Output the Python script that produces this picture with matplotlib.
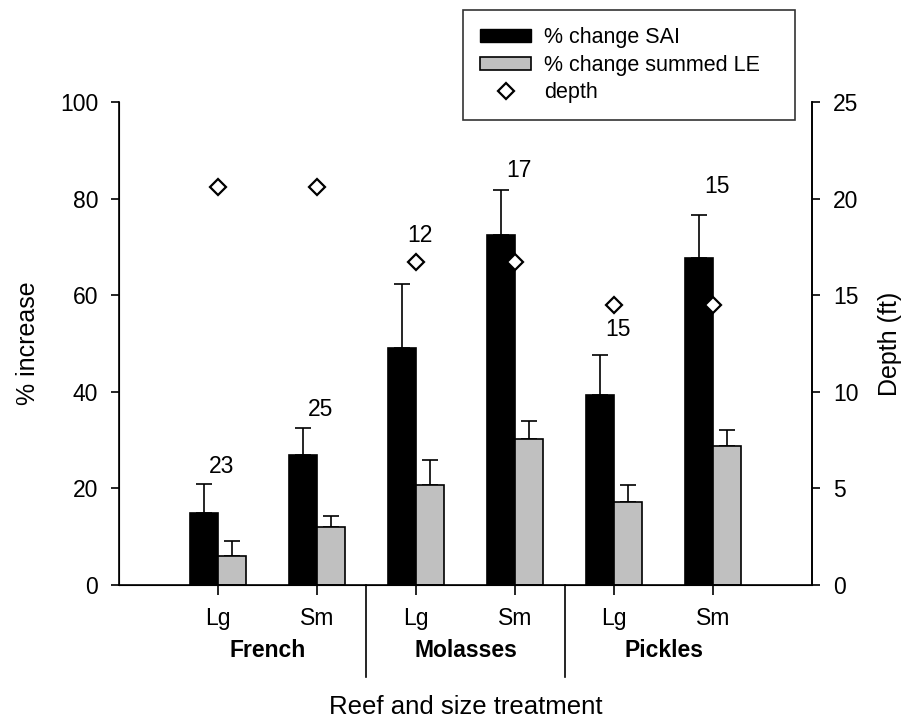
import matplotlib

matplotlib.use("Agg")
import matplotlib.pyplot as plt
from matplotlib.patches import Patch
from matplotlib.lines import Line2D
import numpy as np

plt.rcParams["font.family"] = ["Liberation Sans", "DejaVu Sans"]

# data
reefs = ["French", "Molasses", "Pickles"]
sizes = ["Lg", "Sm", "Lg", "Sm", "Lg", "Sm"]
sai = [15.0, 26.9, 49.0, 72.4, 39.3, 67.8]
sai_se = [5.9, 5.6, 13.3, 9.3, 8.4, 8.9]
le = [6.1, 11.9, 20.6, 30.2, 17.1, 28.8]
le_se = [3.0, 2.4, 5.3, 3.8, 3.7, 3.3]
depth = [20.6, 20.6, 16.7, 16.7, 14.5, 14.5]
n_obs = ["23", "25", "12", "17", "15", "15"]
n_label_y = [24.6, 36.4, 72.3, 85.9, 52.8, 82.6]

fs = 16.5      # ticks and annotations
fs_lab = 18    # axis titles
fs_leg = 15.5
x = np.arange(len(sizes))
w = 0.28

fig = plt.figure(figsize=(9.09, 7.22), dpi=100)
ax = fig.add_axes([0.1309, 0.1898, 0.7624, 0.6689])

ax.bar(x - w / 2, sai, w, color="black", edgecolor="black", lw=1.2, zorder=2)
ax.bar(x + w / 2, le, w, color="#c0c0c0", edgecolor="black", lw=1.2, zorder=2)
ax.errorbar(x - w / 2, sai, yerr=[np.zeros(6), sai_se], fmt="none",
            ecolor="black", elinewidth=1.2, capsize=5.5, capthick=1.2, zorder=1)
ax.errorbar(x + w / 2, le, yerr=[np.zeros(6), le_se], fmt="none",
            ecolor="black", elinewidth=1.2, capsize=5.5, capthick=1.2, zorder=1)

for xi, lab, yi in zip(x, n_obs, n_label_y):
    ax.text(xi + 0.04, yi, lab, ha="center", va="center", fontsize=fs)

ax.set_xlim(-1, 6)
ax.set_ylim(0, 100)
ax.set_yticks(np.arange(0, 101, 20))
ax.set_xticks(x)
ax.set_xticklabels(sizes)
ax.tick_params(axis="both", labelsize=fs, direction="out", width=1.2)
ax.tick_params(axis="y", length=6, pad=9)
ax.tick_params(axis="x", length=7, pad=9)
ax.spines["top"].set_visible(False)
for s in ["left", "bottom", "right"]:
    ax.spines[s].set_linewidth(1.2)
ax.set_ylabel("% increase", fontsize=fs_lab, labelpad=14)

# separators and reef names under the axis
trans = ax.get_xaxis_transform()
for sx in [1.5, 3.5]:
    ax.plot([sx, sx], [0, -0.19], color="black", lw=1.2, transform=trans,
            clip_on=False)
for i, reef in enumerate(reefs):
    ax.text(2 * i + 0.5, -0.135, reef, transform=trans, ha="center",
            va="center", fontsize=fs, fontweight="bold")
ax.text(2.5, -0.252, "Reef and size treatment", transform=trans,
        ha="center", va="center", fontsize=fs_lab + 0.5)

ax2 = ax.twinx()
ax2.plot(x, depth, ls="none", marker="D", ms=8, mfc="white", mec="black",
         mew=1.6, zorder=3)
ax2.set_ylim(0, 25)
ax2.set_yticks(np.arange(0, 26, 5))
ax2.tick_params(axis="y", labelsize=fs, direction="out", length=6, width=1.2,
                pad=9)
ax2.spines["top"].set_visible(False)
ax2.spines["right"].set_linewidth(1.2)
ax2.set_ylabel("Depth (ft)", fontsize=fs_lab, labelpad=14)

handles = [
    Patch(facecolor="black", edgecolor="black"),
    Patch(facecolor="#c0c0c0", edgecolor="black", lw=1.2),
    Line2D([], [], ls="none", marker="D", ms=8, mfc="white", mec="black",
           mew=1.6),
]
labels = ["% change SAI", "% change summed LE", "depth"]
# legend box spans fixed region at the top right of the figure
leg = fig.legend(handles, labels, loc="upper left", mode="expand",
                 bbox_to_anchor=(463 / 909, 1 - 121 / 722, 332 / 909, 111 / 722),
                 fontsize=fs_leg, frameon=True, fancybox=False,
                 edgecolor="black", handlelength=2.35, handleheight=0.55,
                 handletextpad=0.6, labelspacing=0.3, borderpad=0.8,
                 borderaxespad=0)
leg.get_frame().set_linewidth(1.2)

fig.savefig("out.png", dpi=100)
